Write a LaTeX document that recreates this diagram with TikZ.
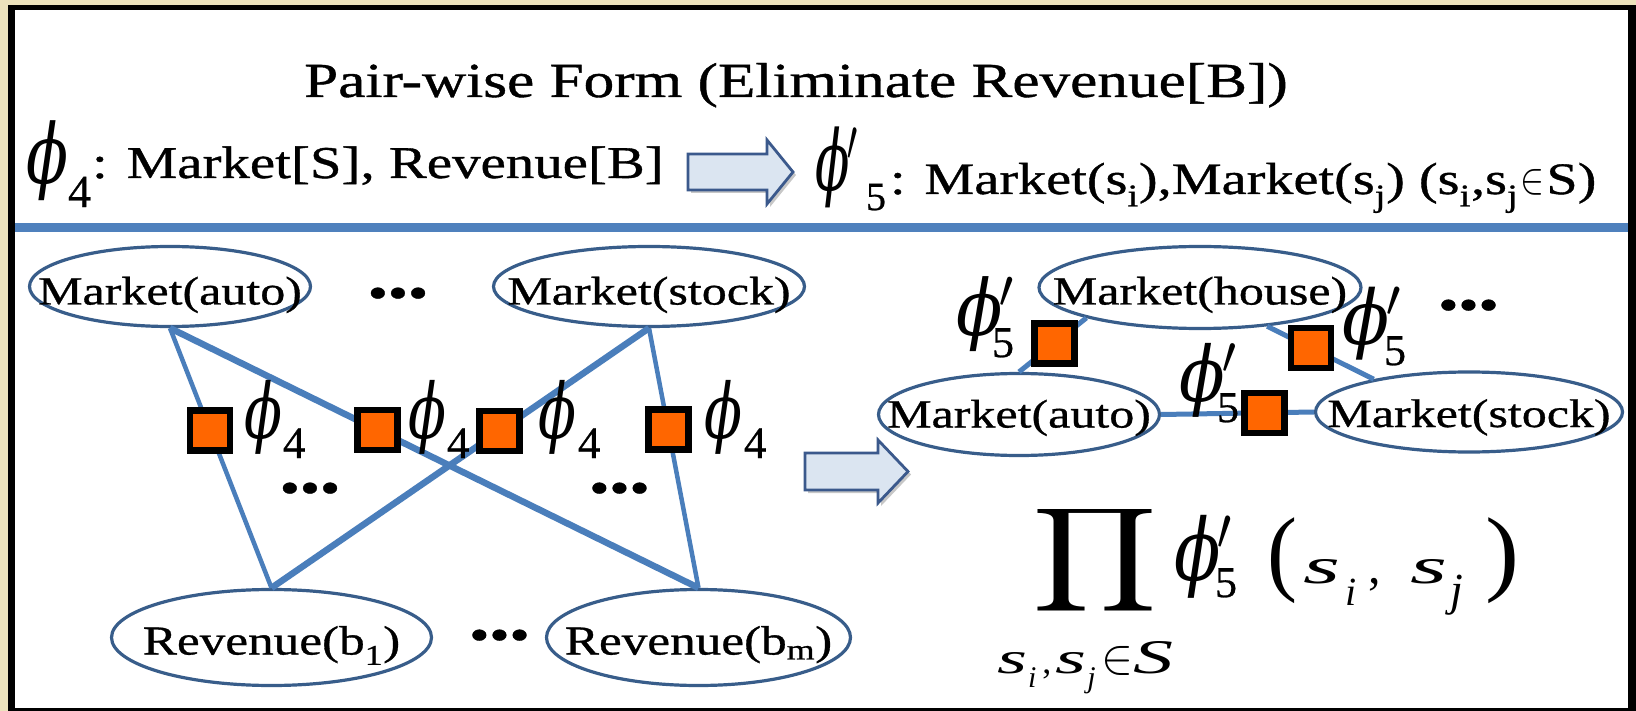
\documentclass[tikz,border=0pt]{standalone}
\usepackage{fontspec}
\setmainfont{Liberation Serif}[FakeStretch=1.25, FakeBold=0.8]
\newfontfamily\eqfont{Liberation Serif}[FakeBold=0.6]
\newfontfamily\sfont{Liberation Serif}
\newfontfamily\phifont{DejaVu Serif}
\usepackage{graphicx}
\usetikzlibrary{shapes.geometric}
\definecolor{bgc}{RGB}{236,226,188}
\definecolor{rulec}{RGB}{79,129,189}
\definecolor{ellc}{RGB}{56,93,138}
\definecolor{edgec}{RGB}{74,126,187}
\definecolor{facc}{RGB}{255,102,0}
\definecolor{arrf}{RGB}{219,229,241}
\definecolor{arrc}{RGB}{59,89,140}
\newcommand{\ellt}[2]{\makebox[0pt]{\raisebox{-#1pt}[0pt][0pt]{#2}}}
% phi (width, height, prime-or-empty, kern, raise of digit, digit size, digit)
\newcommand{\phisub}[7]{\raisebox{\depth}{\resizebox*{#1pt}{#2pt}{\phifont\itshape ϕ#3}}\kern#4pt\raisebox{#5pt}{\fontsize{#6pt}{#6pt}\eqfont #7}}
\newcommand{\pr}{\kern-0.5pt$'$}
\begin{document}
\begin{tikzpicture}[x=1pt,y=-1pt,
  varnode/.style={ellipse, draw=ellc, line width=3.2pt, fill=white, inner sep=0pt, font=\fontsize{40pt}{40pt}\selectfont},
  factor/.style={rectangle, draw=black, fill=facc, line width=6.5pt, minimum size=40pt, inner sep=0pt},
  thinedge/.style={draw=edgec, line width=4.5pt},
  thickedge/.style={draw=edgec, line width=6.5pt},
  redge/.style={draw=edgec, line width=5pt},
  lab/.style={inner sep=0pt, outer sep=0pt},
  phinode/.style={inner sep=0pt, outer sep=0pt, anchor=north west},
  dots/.style={inner sep=0pt, font=\fontsize{46pt}{46pt}\selectfont},
  barrow/.style={draw=arrc, line width=2.8pt, fill=arrf, line join=miter},
  bshadow/.style={fill=black, opacity=0.22},
]
\useasboundingbox (0,0) rectangle (1636,711);
% frame
\fill[bgc] (0,0) rectangle (1636,711);
\fill[black] (8,5) rectangle (1636,711);
\fill[white] (15,10) rectangle (1628,708);
\fill[rulec] (15,223) rectangle (1628,232);

% header
\node[lab, anchor=base] (title) at (796,97) {\fontsize{49pt}{49pt}\selectfont Pair-wise Form (Eliminate Revenue[B])};
\node[phinode] (h4) at (26,121) {\phisub{42}{80}{}{0}{-6}{46}{4}};
\node[lab, anchor=base west] (htxt1) at (92,178) {\fontsize{45.5pt}{45.5pt}\selectfont : Market[S], Revenue[B]};
\fill[bshadow] (691,157) -- (770,157) -- (770,143) -- (796,175) -- (770,207) -- (770,193) -- (691,193) -- cycle;
\filldraw[barrow] (688,154) -- (767,154) -- (767,140) -- (793,172) -- (767,204) -- (767,190) -- (688,190) -- cycle;
\node[phinode] (h5) at (815,127) {\phisub{46}{81}{\pr}{5}{-2}{40}{5}};
\node[lab, anchor=base west] (htxt2) at (890,194) {\fontsize{45pt}{45pt}\selectfont : Market(s\textsubscript{i}),Market(s\textsubscript{j}) (s\textsubscript{i},s\textsubscript{j}\kern2pt\resizebox{24pt}{24pt}{$\in$}\kern2pt S)};

% left graph
\node[varnode, minimum width=281pt, minimum height=80pt] (ma) at (170,286.5) {\ellt{18}{Market(auto)}};
\node[varnode, minimum width=311pt, minimum height=80pt] (ms) at (649,286.5) {\ellt{18}{Market(stock)}};
\node[varnode, font=\fontsize{41pt}{41pt}\selectfont, minimum width=320pt, minimum height=96pt] (rb1) at (271.5,637.5) {\ellt{17}{Revenue(b\textsubscript{1})}};
\node[varnode, font=\fontsize{41pt}{41pt}\selectfont, minimum width=304pt, minimum height=96pt] (rbm) at (698.5,637.5) {\ellt{17}{Revenue(b\textsubscript{m})}};
\draw[thinedge] (ma.south) -- (rb1.north) coordinate[pos=0.395] (c1);
\draw[thickedge] (ma.south) -- (rbm.north) coordinate[pos=0.393] (c2);
\draw[thickedge] (ms.south) -- (rb1.north) coordinate[pos=0.396] (c3);
\draw[thinedge] (ms.south) -- (rbm.north) coordinate[pos=0.39] (c4);
\node[factor] (f1) at (c1) {};
\node[factor] (f2) at (c2) {};
\node[factor] (f3) at (c3) {};
\node[factor] (f4) at (c4) {};
\node[phinode] (l1) at (244,380) {\phisub{38}{74}{}{1}{-4}{45}{4}};
\node[phinode] (l2) at (408,380) {\phisub{38}{74}{}{1}{-4}{45}{4}};
\node[phinode] (l3) at (538,380) {\phisub{38}{74}{}{2}{-4}{45}{4}};
\node[phinode] (l4) at (704,380) {\phisub{38}{74}{}{2}{-4}{45}{4}};
\node[dots] (d1) at (398,298) {•••};
\node[dots] (d2) at (310,493) {•••};
\node[dots] (d3) at (619.5,493) {•••};
\node[dots] (d4) at (499.5,640) {•••};

% middle arrow
\fill[bshadow] (808,456) -- (881,456) -- (881,443) -- (911,474.5) -- (881,506) -- (881,493) -- (808,493) -- cycle;
\filldraw[barrow] (805,453) -- (878,453) -- (878,440) -- (908,471.5) -- (878,503) -- (878,490) -- (805,490) -- cycle;

% right graph
\node[varnode, minimum width=322pt, minimum height=82pt] (rh) at (1200,287.5) {\ellt{17}{Market(house)}};
\node[varnode, minimum width=281pt, minimum height=82pt] (ra) at (1019,414.5) {\ellt{13}{Market(auto)}};
\node[varnode, minimum width=307pt, minimum height=80pt] (rs) at (1469,412) {\ellt{15}{Market(stock)}};
\draw[redge] (ra.north) -- (rh.195) coordinate[pos=0.53] (c5);
\draw[redge] (rh.330) -- (rs.161) coordinate[pos=0.41] (c6);
\draw[redge] (ra.east) -- (rs.west) coordinate[pos=0.677] (c7);
\node[factor] (f5) at (c5) {};
\node[factor] (f6) at (c6) {};
\node[factor] (f7) at (c7) {};
\node[phinode] (r1) at (956,277) {\phisub{62}{75}{\pr}{-26}{-5}{44}{5}};
\node[phinode] (r2) at (1342,287) {\phisub{63}{73}{\pr}{-21}{-5}{44}{5}};
\node[phinode] (r3) at (1179,343) {\phisub{61}{74}{\pr}{-23}{-5}{44}{5}};
\node[dots] (d5) at (1468.5,310) {•••};

% product formula
\node[lab] (prod) at (1095.5,560) {\resizebox*{125pt}{116pt}{$\displaystyle\prod$}};
\node[phinode] (fphi) at (1174,515) {\phisub{62}{83}{\pr}{-21}{1}{44}{5}};
\node[lab, anchor=base west] (fargs) at (1267,583) {\sfont\resizebox*{30pt}{86pt}{(}\kern6pt\resizebox{37pt}{24pt}{\itshape s}\kern5pt\raisebox{-22pt}{\fontsize{40pt}{40pt}\selectfont\itshape i}\kern12pt{\fontsize{50pt}{50pt}\selectfont ,}\kern30pt\resizebox{37pt}{24pt}{\itshape s}\kern3pt\raisebox{-22pt}{\fontsize{46pt}{46pt}\selectfont\itshape j}\kern22pt\resizebox*{34pt}{86pt}{)}};
\node[lab, anchor=base west] (fsub) at (997,673) {\sfont\resizebox{30pt}{21pt}{\itshape s}\kern1pt\raisebox{-14pt}{\fontsize{30pt}{30pt}\selectfont\itshape i}\kern6pt{\fontsize{36pt}{36pt}\selectfont ,}\kern4pt\resizebox{31pt}{21pt}{\itshape s}\kern1pt\raisebox{-14pt}{\fontsize{30pt}{30pt}\selectfont\itshape j}\kern6pt\resizebox{32pt}{27pt}{$\in$}\resizebox{40pt}{32pt}{\itshape S}};
\end{tikzpicture}
\end{document}
